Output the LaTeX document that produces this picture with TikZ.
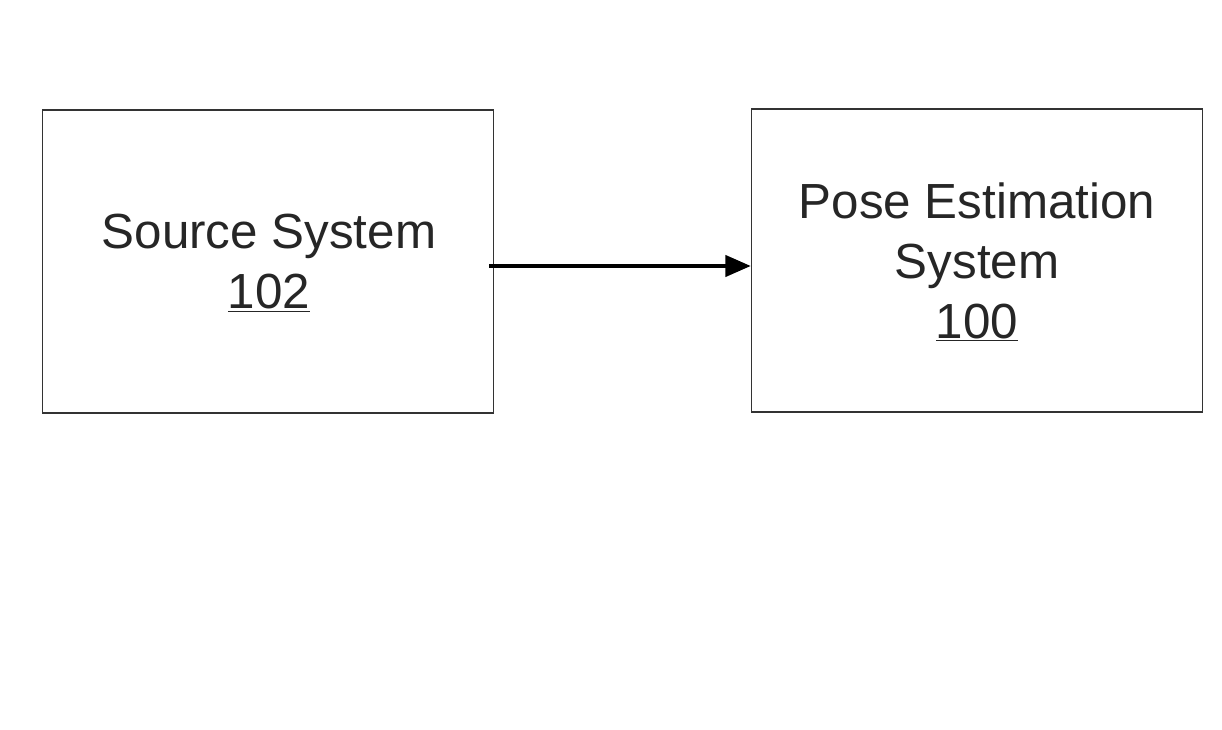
\documentclass[tikz,border=0pt]{standalone}
\usepackage{fontspec}
\setmainfont{Liberation Sans}
\usetikzlibrary{arrows.meta}
\begin{document}
\begin{tikzpicture}[x=0.75pt,y=-0.75pt,
  blk/.style={draw=black!80, line width=1.2pt, minimum width=338.25pt, minimum height=227.25pt, inner sep=0pt},
  lbl/.style={font=\fontsize{37}{45}\selectfont, align=center, text=black!85},
  conn/.style={line width=2.4pt, -{Triangle[length=19pt,width=16pt]}}]
\useasboundingbox (0,0) rectangle (1222,730);
\node[blk] (src) at (268,261.5) {};
\node[blk] (pose) at (977,260.5) {};
\node[lbl] (srct) at (269,263) {Source System\\\underline{102}};
\node[lbl] (poset) at (977,262) {Pose Estimation\\System\\\underline{100}};
\draw[conn] (489,266) -- (pose.west |- 0,266);
\end{tikzpicture}
\end{document}
